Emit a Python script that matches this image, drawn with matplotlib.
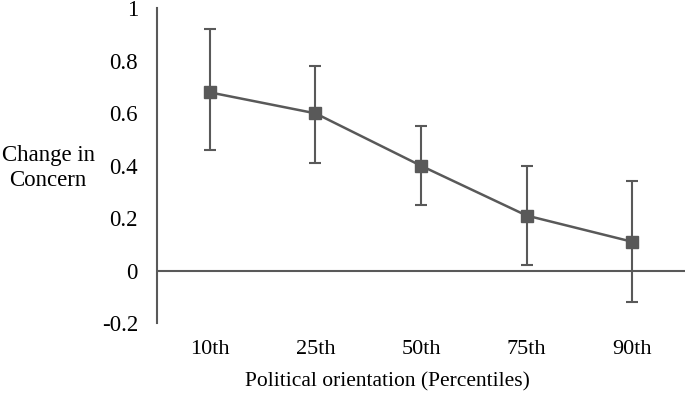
import matplotlib
matplotlib.use("Agg")
import matplotlib.pyplot as plt

categories = ["10th", "25th", "50th", "75th", "90th"]
means = [0.68, 0.60, 0.40, 0.21, 0.11]
lower = [0.46, 0.41, 0.25, 0.02, -0.12]
upper = [0.92, 0.78, 0.55, 0.40, 0.34]
yticks = [-0.2, 0, 0.2, 0.4, 0.6, 0.8, 1]
yticklabels = ["-0.2", "0", "0.2", "0.4", "0.6", "0.8", "1"]

plt.rcParams['font.family'] = ['Liberation Serif', 'DejaVu Serif']
col = '#595959'

fig = plt.figure(figsize=(6.85, 3.94), dpi=100)
ax = fig.add_axes([157/685, 1-323/394, 1-157/685, (323-8.5)/394])

x = list(range(len(categories)))
err_lo = [m - l for m, l in zip(means, lower)]
err_hi = [u - m for m, u in zip(means, upper)]
ax.errorbar(x, means, yerr=[err_lo, err_hi], color=col, lw=1.8, marker='s',
            markersize=9, capsize=4, elinewidth=1.5, capthick=1.5, zorder=3)

ax.axhline(0, color=col, lw=1.5, zorder=1)
ax.set_xlim(-0.5, 4.5)
ax.set_ylim(-0.2, 1.0)
ax.set_yticks(yticks)
ax.set_yticklabels(yticklabels, fontsize=16.5)
ax.set_xticks(x)
ax.set_xticklabels(categories, fontsize=16)
ax.tick_params(axis='both', length=0)
ax.tick_params(axis='y', pad=13.7)
ax.tick_params(axis='x', pad=12)
for s in ['top', 'right', 'bottom']:
    ax.spines[s].set_visible(False)
ax.spines['left'].set_color(col)
ax.spines['left'].set_linewidth(1.5)

fig.text(387.5/685, 1-382/394, "Political orientation (Percentiles)", fontsize=15.5,
         ha='center', va='center')
fig.text(48/685, 1-168/394, "Change in\nConcern", fontsize=16.5, ha='center', va='center',
         multialignment='center', linespacing=1.3)

fig.savefig("out.png", dpi=100)
